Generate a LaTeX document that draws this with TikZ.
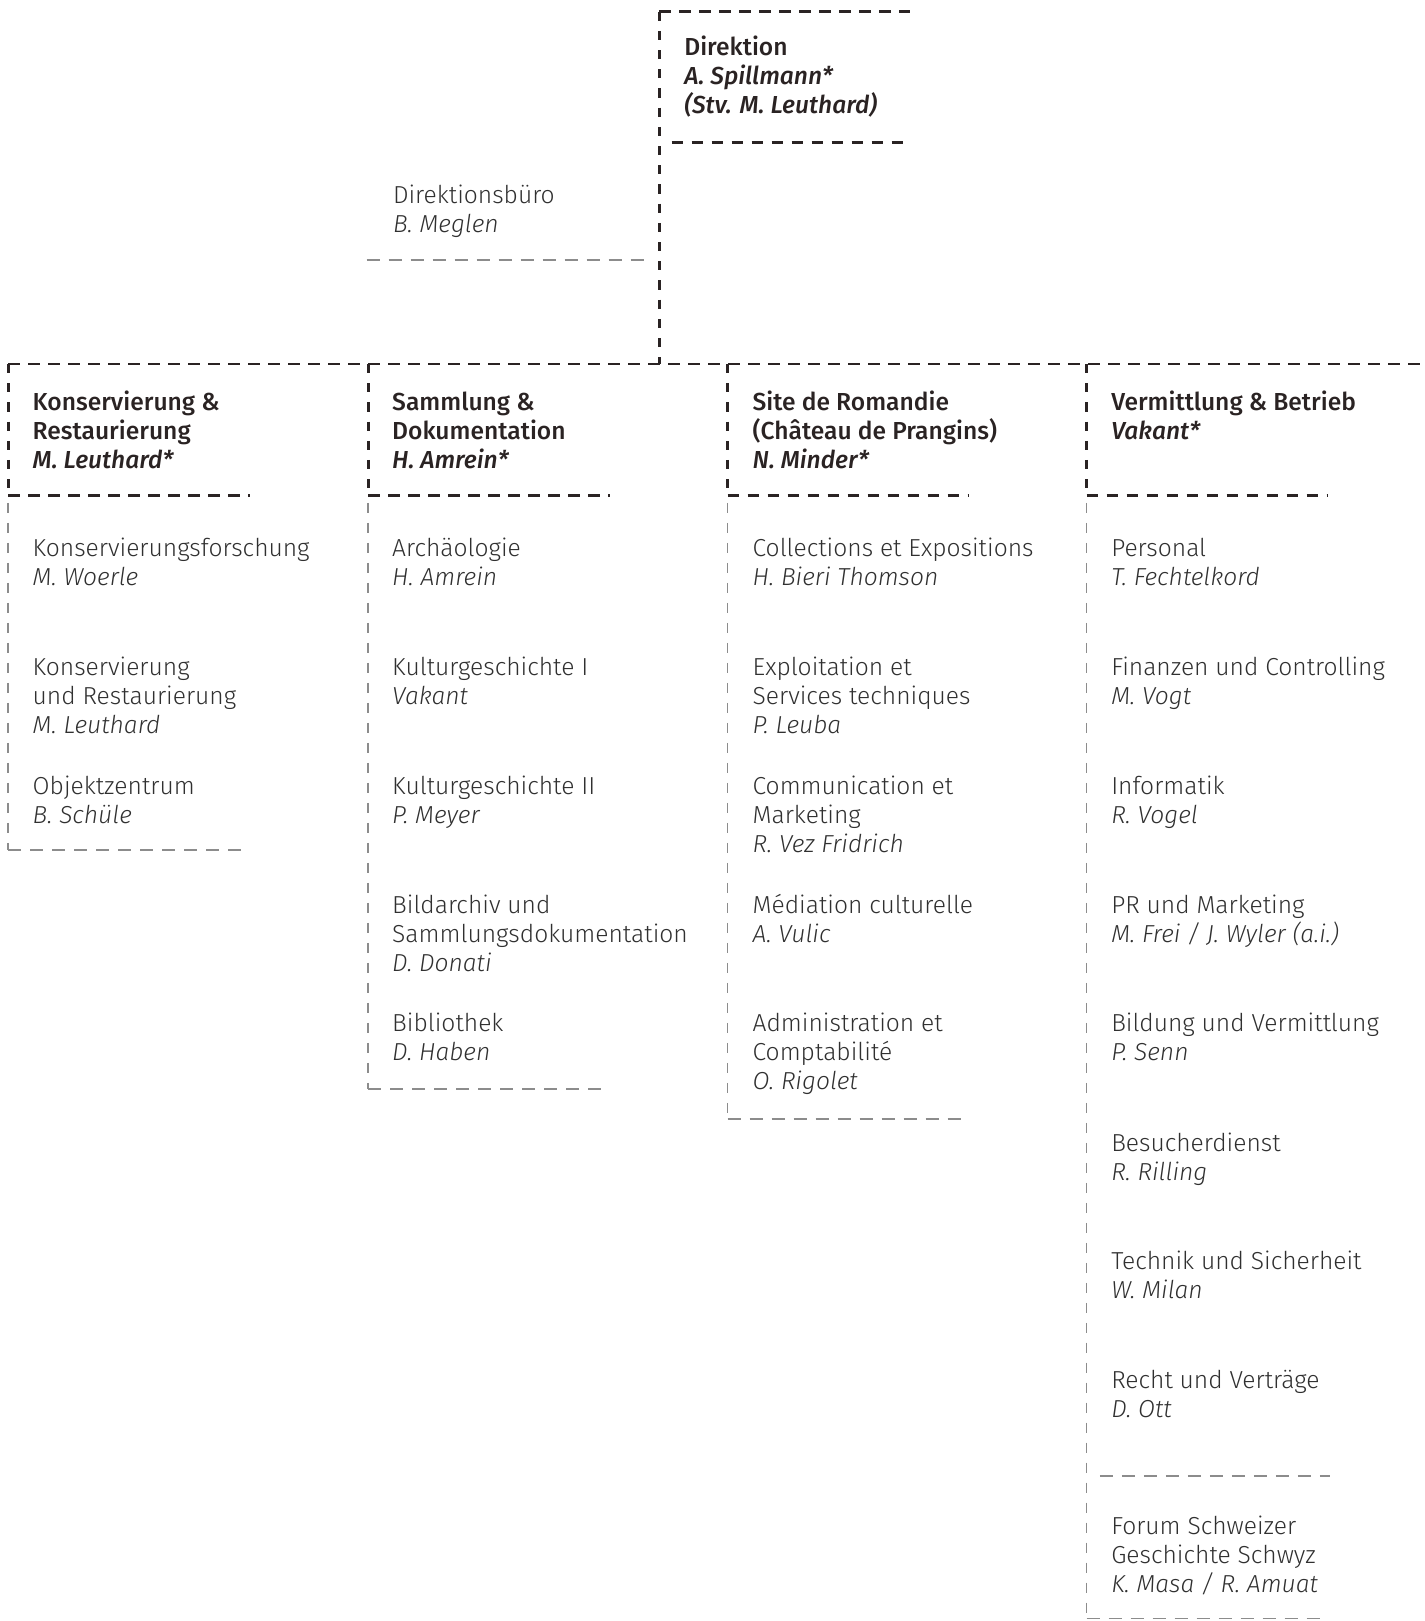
\documentclass[tikz,border=0pt]{standalone}
\usepackage{fontspec}
\setmainfont{Fira Sans}[UprightFont={* Light}, ItalicFont={* Light Italic}, BoldFont={* Medium}, BoldItalicFont={* Medium Italic}]
\definecolor{ink}{HTML}{2A2323}
\definecolor{txt}{HTML}{303030}
\definecolor{lgray}{HTML}{8C8C8C}
\newcommand\ft{\rule{0pt}{10pt}}
\begin{document}
\begin{tikzpicture}[x=0.5163pt,y=-0.5163pt,
  item/.style={anchor=north west, yshift=10pt, inner sep=0pt, align=left, text=txt,
    font=\fontsize{12.3}{14.5}\selectfont},
  head/.style={item, text=ink, font=\fontsize{12.3}{14.5}\selectfont\bfseries},
  darkh/.style={draw=ink, line width=1.3pt, dash pattern=on 5.8pt off 4.2pt},
  darkv/.style={draw=ink, line width=1.3pt, dash pattern=on 4.6pt off 5pt},
  grayh/.style={draw=lgray, line width=0.9pt, dash pattern=on 6.5pt off 4.5pt},
  grayv/.style={draw=lgray, line width=0.9pt, dash pattern=on 5pt off 5pt}]
\useasboundingbox (0,0) rectangle (1380,1570);
% ---------- Direktion
\coordinate (dTL) at (638.5,11.3);
\coordinate (dTR) at (881,11.3);
\coordinate (dBL) at (650.5,138.2);
\coordinate (dBR) at (881,138.2);
\coordinate (dJ) at (638.5,352.5);
\path[darkh] (dTL) -- (dTR);
\path[darkh] (dBL) -- (dBR);
\path[darkv] (dTL) -- (dJ);
\node[head] (dir) at (662.4,53) {\ft Direktion\\\textit{A. Spillmann*}\\\textit{(Stv. M. Leuthard)}};
% ---------- Direktionsbuero
\coordinate (bL) at (355,251.8);
\coordinate (bR) at (627.5,251.8);
\path[grayh] (bL) -- (bR);
\node[item] (buero) at (380.3,196.5) {\ft Direktionsbüro\\\textit{B. Meglen}};
% ---------- main line
\coordinate (mL) at (8.1,352.5);
\coordinate (mR) at (1375,352.5);
\path[darkh] (mL) -- (mR);
% columns
\foreach \cx/\ce/\nm in {8.1/823/a, 356.7/1055/b, 704.7/1084/c, 1052.4/1567.5/d}{
  \coordinate (top\nm) at (\cx,352.5);
  \coordinate (hb\nm) at (\cx,480);
  \coordinate (hr\nm) at (\cx+234,480);
  \coordinate (gs\nm) at (\cx,487);
  \coordinate (ge\nm) at (\cx,\ce);
  \coordinate (gr\nm) at (\cx+234,\ce);
  \path[darkv] (top\nm) -- (hb\nm);
  \path[darkh] (hb\nm) -- (hr\nm);
  \path[grayv] (gs\nm) -- (ge\nm);
  \path[grayh] (ge\nm) -- (gr\nm);
}
\coordinate (fL) at (1065.3,1429.4);
\coordinate (fR) at (1288,1429.4);
\path[grayh] (fL) -- (fR);
% ---------- headers
\node[head] (h1) at (31.3,397) {\ft Konservierung \&\\Restaurierung\\\textit{M. Leuthard*}};
\node[head] (h2) at (379.5,397) {\ft Sammlung \&\\Dokumentation\\\textit{H. Amrein*}};
\node[head] (h3) at (728.6,397) {\ft Site de Romandie\\(Château de Prangins)\\\textit{N. Minder*}};
\node[head] (h4) at (1075.9,397) {\ft Vermittlung \& Betrieb\\\textit{Vakant*}};
% ---------- column 1
\node[item] (a1) at (31.3,539) {\ft Konservierungsforschung\\\textit{M. Woerle}};
\node[item] (a2) at (31.3,654) {\ft Konservierung\\und Restaurierung\\\textit{M. Leuthard}};
\node[item] (a3) at (31.3,769) {\ft Objektzentrum\\\textit{B. Schüle}};
% ---------- column 2
\node[item] (b1) at (379.5,539) {\ft Archäologie\\\textit{H. Amrein}};
\node[item] (b2) at (379.5,654) {\ft Kulturgeschichte I\\\textit{Vakant}};
\node[item] (b3) at (379.5,769) {\ft Kulturgeschichte II\\\textit{P. Meyer}};
\node[item] (b4) at (379.5,884) {\ft Bildarchiv und\\Sammlungsdokumentation\\\textit{D. Donati}};
\node[item] (b5) at (379.5,999) {\ft Bibliothek\\\textit{D. Haben}};
% ---------- column 3
\node[item] (c1) at (728.6,539) {\ft Collections et Expositions\\\textit{H. Bieri Thomson}};
\node[item] (c2) at (728.6,654) {\ft Exploitation et\\Services techniques\\\textit{P. Leuba}};
\node[item] (c3) at (728.6,769) {\ft Communication et\\Marketing\\\textit{R. Vez Fridrich}};
\node[item] (c4) at (728.6,884) {\ft Médiation culturelle\\\textit{A. Vulic}};
\node[item] (c5) at (728.6,999) {\ft Administration et\\Comptabilité\\\textit{O. Rigolet}};
% ---------- column 4
\node[item] (d1) at (1075.9,539) {\ft Personal\\\textit{T. Fechtelkord}};
\node[item] (d2) at (1075.9,654) {\ft Finanzen und Controlling\\\textit{M. Vogt}};
\node[item] (d3) at (1075.9,769) {\ft Informatik\\\textit{R. Vogel}};
\node[item] (d4) at (1075.9,884) {\ft PR und Marketing\\\textit{M. Frei / J. Wyler (a.i.)}};
\node[item] (d5) at (1075.9,999) {\ft Bildung und Vermittlung\\\textit{P. Senn}};
\node[item] (d6) at (1075.9,1114.5) {\ft Besucherdienst\\\textit{R. Rilling}};
\node[item] (d7) at (1075.9,1229.5) {\ft Technik und Sicherheit\\\textit{W. Milan}};
\node[item] (d8) at (1075.9,1344.5) {\ft Recht und Verträge\\\textit{D. Ott}};
\node[item] (d9) at (1075.9,1486) {\ft Forum Schweizer\\Geschichte Schwyz\\\textit{K. Masa / R. Amuat}};
\end{tikzpicture}
\end{document}
